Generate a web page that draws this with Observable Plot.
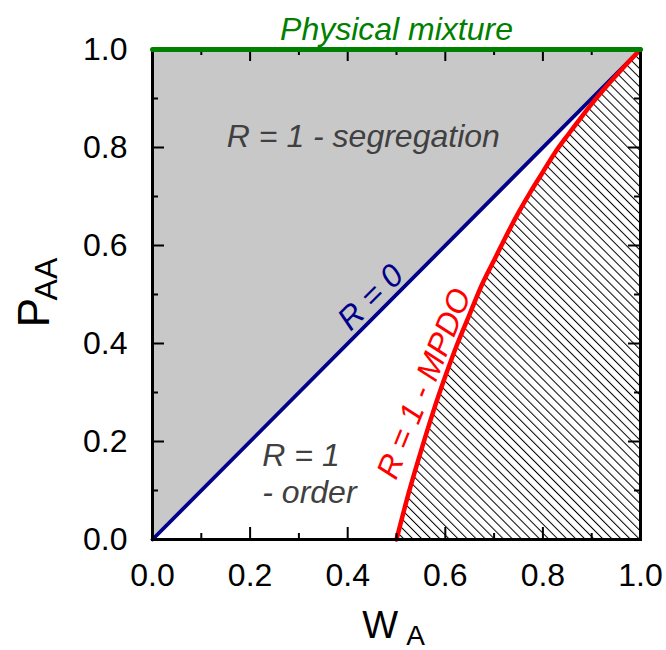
<!DOCTYPE html>
<html>
<head>
<meta charset="utf-8">
<script src="https://cdn.jsdelivr.net/npm/d3@7"></script>
<script src="https://cdn.jsdelivr.net/npm/@observablehq/plot@0.6"></script>
<style>
  body { margin: 0; background: #fff; }
</style>
</head>
<body>
<div id="chart"></div>
<script>
// Diagonal R = 0 (P_AA = W_A)
const diagW = [0, 1];
const diagP = [0, 1];
// R = 1 - MPDO boundary
const mpdoW = [0.5, 0.525, 0.55, 0.575, 0.6, 0.625, 0.65, 0.675, 0.7, 0.725, 0.75, 0.775, 0.8, 0.825, 0.85, 0.875, 0.9, 0.925, 0.95, 0.975, 1.0];
const mpdoP = [0.0, 0.095, 0.18, 0.26, 0.333, 0.40, 0.46, 0.52, 0.57, 0.62, 0.667, 0.71, 0.75, 0.79, 0.824, 0.857, 0.889, 0.919, 0.947, 0.974, 1.0];
// Physical mixture line
const mixW = [0, 1];
const mixP = [1, 1];
// Ticks
const majorTicks = [0, 0.2, 0.4, 0.6, 0.8, 1.0];
const innerMajor = [0.2, 0.4, 0.6, 0.8];
const minorTicks = [0.1, 0.3, 0.5, 0.7, 0.9];

const diag = diagW.map((w, i) => ({w, p: diagP[i]}));
const mpdo = mpdoW.map((w, i) => ({w, p: mpdoP[i]}));
const mix = mixW.map((w, i) => ({w, p: mixP[i]}));

const FONT = "'Liberation Sans', 'DejaVu Sans', sans-serif";
const H = 490, Wd = 488; // frame size
const MAJ = 12, MIN = 6;

const svg = Plot.plot({
  width: 666,
  height: 650,
  marginTop: 49,
  marginRight: 26,
  marginBottom: 111,
  marginLeft: 152,
  style: {fontFamily: FONT, background: "white", overflow: "visible"},
  x: {domain: [0, 1]},
  y: {domain: [0, 1]},
  marks: [
    Plot.areaY(diag, {x: "w", y1: "p", y2: () => 1, fill: "#c8c8c8"}),
    Plot.areaY(mpdo, {x: "w", y1: () => 0, y2: "p", fill: "url(#hatch)", curve: "natural"}),
    Plot.line(diag, {x: "w", y: "p", stroke: "#00008b", strokeWidth: 3.8}),
    Plot.line(mpdo, {x: "w", y: "p", stroke: "#ff0000", strokeWidth: 4.5, curve: "natural"}),
    // inward ticks
    Plot.ruleX(innerMajor, {x: d => d, insetTop: H - MAJ, stroke: "black", strokeWidth: 2}),
    Plot.ruleX(minorTicks, {x: d => d, insetTop: H - MIN, stroke: "black", strokeWidth: 2}),
    Plot.ruleX(innerMajor, {x: d => d, insetBottom: H - MAJ, stroke: "black", strokeWidth: 2}),
    Plot.ruleX(minorTicks, {x: d => d, insetBottom: H - MIN, stroke: "black", strokeWidth: 2}),
    Plot.ruleY(innerMajor, {y: d => d, insetRight: Wd - MAJ, stroke: "black", strokeWidth: 2}),
    Plot.ruleY(minorTicks, {y: d => d, insetRight: Wd - MIN, stroke: "black", strokeWidth: 2}),
    Plot.ruleY(innerMajor, {y: d => d, insetLeft: Wd - MAJ, stroke: "black", strokeWidth: 2}),
    Plot.ruleY(minorTicks, {y: d => d, insetLeft: Wd - MIN, stroke: "black", strokeWidth: 2}),
    Plot.frame({stroke: "black", strokeWidth: 3}),
    Plot.line(mix, {x: "w", y: "p", stroke: "#008000", strokeWidth: 5}),
    Plot.axisX({ticks: majorTicks, tickSize: 0, tickPadding: 24, tickFormat: d3.format(".1f"), fontSize: 32, label: null, fill: "black"}),
    Plot.axisY({ticks: majorTicks, tickSize: 0, tickPadding: 25, tickFormat: d3.format(".1f"), fontSize: 32, label: null, fill: "black"}),
    // annotations
    Plot.text(["Physical mixture"], {x: () => 0.5, y: () => 1.041, text: d => d, fontSize: 32, fontStyle: "italic", fill: "#008000", lineAnchor: "middle"}),
    Plot.text(["R = 1 - segregation"], {x: () => 0.432, y: () => 0.822, text: d => d, fontSize: 32, fontStyle: "italic", fill: "#404040", lineAnchor: "middle"}),
    Plot.text(["R = 0"], {x: () => 0.447, y: () => 0.494, text: d => d, fontSize: 32, fontStyle: "italic", fill: "#00008b", rotate: -45, lineAnchor: "middle"}),
    Plot.text(["R = 1 - MPDO"], {x: () => 0.557, y: () => 0.318, text: d => d, fontSize: 32, fontStyle: "italic", fill: "#ff0000", rotate: -68, lineAnchor: "middle"}),
    Plot.text(["R = 1"], {x: () => 0.225, y: () => 0.151, text: d => d, fontSize: 32, fontStyle: "italic", fill: "#404040", textAnchor: "start", lineAnchor: "bottom"}),
    Plot.text(["- order"], {x: () => 0.225, y: () => 0.075, text: d => d, fontSize: 32, fontStyle: "italic", fill: "#404040", textAnchor: "start", lineAnchor: "bottom"}),
    // axis titles with subscripts
    Plot.text(["W"], {x: () => 0.43, y: () => -0.2, text: d => d, fontSize: 38, fill: "black", textAnchor: "start", lineAnchor: "bottom"}),
    Plot.text(["A"], {x: () => 0.52, y: () => -0.2163, text: d => d, fontSize: 28, fill: "black", textAnchor: "start", lineAnchor: "bottom"}),
    Plot.text(["P"], {x: () => -0.213, y: () => 0.433, text: d => d, fontSize: 44, fill: "black", textAnchor: "start", lineAnchor: "bottom", rotate: -90}),
    Plot.text(["AA"], {x: () => -0.195, y: () => 0.488, text: d => d, fontSize: 32, fill: "black", textAnchor: "start", lineAnchor: "bottom", rotate: -90})
  ]
});

d3.select(svg).insert("defs", ":first-child").html(
  '<pattern id="hatch" patternUnits="userSpaceOnUse" width="6.4" height="10" patternTransform="rotate(-45)">' +
  '<rect width="6.4" height="10" fill="white"/>' +
  '<line x1="0.5" y1="0" x2="0.5" y2="10" stroke="black" stroke-width="1"/></pattern>'
);

document.getElementById("chart").appendChild(svg);
</script>
</body>
</html>
